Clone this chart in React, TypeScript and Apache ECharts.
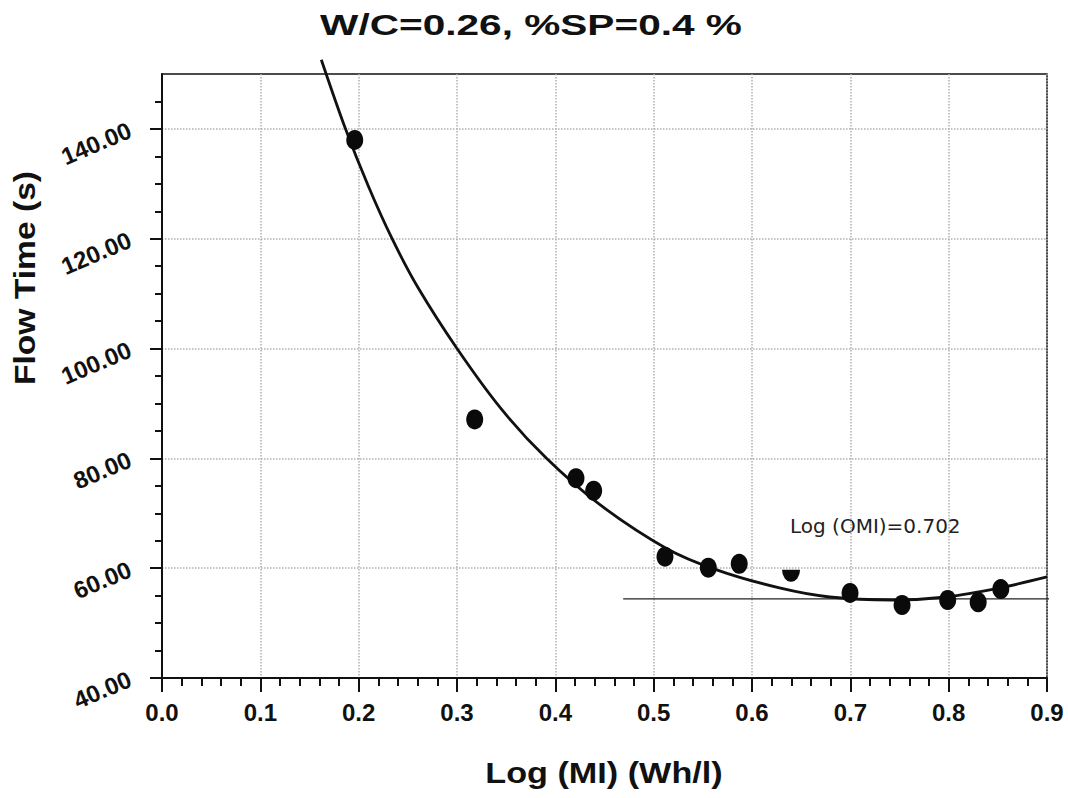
import React, { useEffect, useRef } from "react";
import * as echarts from "echarts";

// Measured points (Log(MI), Flow time)
const pointX = [0.196, 0.318, 0.421, 0.439, 0.5115, 0.5556, 0.587, 0.6397, 0.6997, 0.7526, 0.799, 0.83, 0.853];
const pointY = [138, 87.1, 76.4, 74.1, 62.1, 60.1, 60.8, 58.6, 55.5, 53.3, 54.2, 53.8, 56.2];
const halfPointIndex = 7;

// Fitted curve
const fitX = [0.162, 0.186, 0.21, 0.234, 0.26, 0.3, 0.345, 0.391, 0.445, 0.513, 0.564, 0.628, 0.679, 0.743, 0.798, 0.852, 0.9];
const fitY = [152.6, 140.3, 129.5, 120, 111.2, 100, 89.0, 80, 71.6, 63.6, 59.7, 56.4, 54.75, 54.2, 54.75, 56.4, 58.4];

// Optimum horizontal line
const omiLineX = [0.469, 0.912];
const omiLineY = [54.4, 54.4];

const xTickLabels = ["0.0", "0.1", "0.2", "0.3", "0.4", "0.5", "0.6", "0.7", "0.8", "0.9"];
const yTickValues = [40, 60, 80, 100, 120, 140];
const yTickLabels = ["40.00", "60.00", "80.00", "100.00", "120.00", "140.00"];
const yMinorTickValues = [45, 50, 55, 65, 70, 75, 85, 90, 95, 105, 110, 115, 125, 130, 135, 145];

const titleText = "W/C=0.26, %SP=0.4 %";
const xName = "Log (MI) (Wh/l)";
const yName = "Flow Time (s)";
const noteText = "Log (OMI)=0.702";

const FONT = '"Liberation Sans", Arial, sans-serif';

export default function App() {
  const ref = useRef<HTMLDivElement>(null);
  useEffect(() => {
    if (!ref.current) return;
    const chart = echarts.init(ref.current, undefined, { renderer: "svg" });
    const halfDisc = "path://M0,0 L20,0 A10,10 0 0,1 0,0 Z";
    const scatterData = pointX.map((x, i) =>
      i === halfPointIndex
        ? { value: [x, pointY[i]], symbol: halfDisc, symbolSize: [18, 12] }
        : { value: [x, pointY[i]] }
    );
    chart.setOption({
      animation: false,
      backgroundColor: "#ffffff",
      grid: {
        left: 162,
        top: 74,
        width: 885,
        height: 604,
        show: true,
        borderColor: "#111",
        borderWidth: 1.5,
        backgroundColor: "transparent",
      },
      xAxis: {
        type: "value",
        min: 0,
        max: 0.9,
        interval: 0.1,
        axisLine: { show: true, lineStyle: { color: "#111", width: 2 } },
        axisTick: { show: true, inside: false, length: 14, lineStyle: { color: "#111", width: 2 } },
        minorTick: { show: true, splitNumber: 5, length: 8, lineStyle: { color: "#111", width: 2 } },
        axisLabel: {
          margin: 22,
          fontFamily: FONT,
          fontWeight: "bold",
          fontSize: 24,
          color: "#111",
          formatter: (v: number) => xTickLabels[Math.round(v * 10)] ?? "",
        },
        splitLine: { show: true, lineStyle: { color: "#b0b0b0", type: "dotted", width: 1.5 } },
        minorSplitLine: { show: false },
      },
      yAxis: [
        {
          type: "value",
          position: "left",
          min: 40,
          max: 150,
          interval: 20,
          axisLine: { show: true, lineStyle: { color: "#111", width: 2 } },
          axisTick: { show: true, inside: false, length: 12, customValues: yTickValues, lineStyle: { color: "#111", width: 2 } },
          axisLabel: {
            customValues: yTickValues,
            rotate: 23,
            margin: 32,
            padding: [7, 0, 0, 0],
            fontFamily: FONT,
            fontWeight: "bold",
            fontSize: 24,
            color: "#111",
            formatter: (v: number) => {
              const i = yTickValues.indexOf(Math.round(v));
              return i >= 0 ? yTickLabels[i] : "";
            },
          },
          splitLine: { show: true, lineStyle: { color: "#b0b0b0", type: "dotted", width: 1.5 } },
        },
        {
          type: "value",
          position: "left",
          min: 40,
          max: 150,
          interval: 5,
          axisLine: { show: false },
          axisTick: { show: true, inside: false, length: 7, customValues: yMinorTickValues, lineStyle: { color: "#111", width: 2 } },
          axisLabel: { show: false },
          splitLine: { show: false },
        },
      ],
      series: [
        {
          type: "line",
          data: fitX.map((x, i) => [x, fitY[i]]),
          smooth: 0.3,
          showSymbol: false,
          symbol: "none",
          clip: false,
          lineStyle: { color: "#111", width: 2.8 },
          z: 3,
        },
        {
          type: "line",
          data: omiLineX.map((x, i) => [x, omiLineY[i]]),
          showSymbol: false,
          symbol: "none",
          clip: false,
          lineStyle: { color: "#222", width: 1.2 },
          z: 2,
        },
        {
          type: "scatter",
          data: scatterData,
          symbol: "circle",
          symbolSize: [17, 20],
          itemStyle: { color: "#0a0a0a", opacity: 1 },
          z: 4,
        },
      ],
      graphic: [
        {
          type: "text",
          x: 531,
          y: 25,
          scaleX: 1.4,
          style: {
            text: titleText,
            fontFamily: FONT,
            fontWeight: "bold",
            fontSize: 29,
            fill: "#111",
            align: "center",
            verticalAlign: "middle",
            textAlign: "center",
            textVerticalAlign: "middle",
          },
        },
        {
          type: "text",
          x: 604,
          y: 773,
          scaleX: 1.14,
          style: {
            text: xName,
            fontFamily: FONT,
            fontWeight: "bold",
            fontSize: 30,
            fill: "#111",
            align: "center",
            verticalAlign: "middle",
            textAlign: "center",
            textVerticalAlign: "middle",
          },
        },
        {
          type: "text",
          x: 25,
          y: 278,
          rotation: Math.PI / 2,
          scaleX: 1.12,
          style: {
            text: yName,
            fontFamily: FONT,
            fontWeight: "bold",
            fontSize: 30,
            fill: "#111",
            align: "center",
            verticalAlign: "middle",
            textAlign: "center",
            textVerticalAlign: "middle",
          },
        },
        {
          type: "text",
          x: 790,
          y: 526,
          style: {
            text: noteText,
            fontFamily: '"DejaVu Sans", Verdana, sans-serif',
            fontSize: 20,
            fill: "#222",
            align: "left",
            verticalAlign: "middle",
            textAlign: "left",
            textVerticalAlign: "middle",
          },
        },
      ],
    });
    return () => chart.dispose();
  }, []);
  return (
    <div
      ref={ref}
      style={{ position: "absolute", left: 0, top: 0, width: 1068, height: 798 }}
    />
  );
}
